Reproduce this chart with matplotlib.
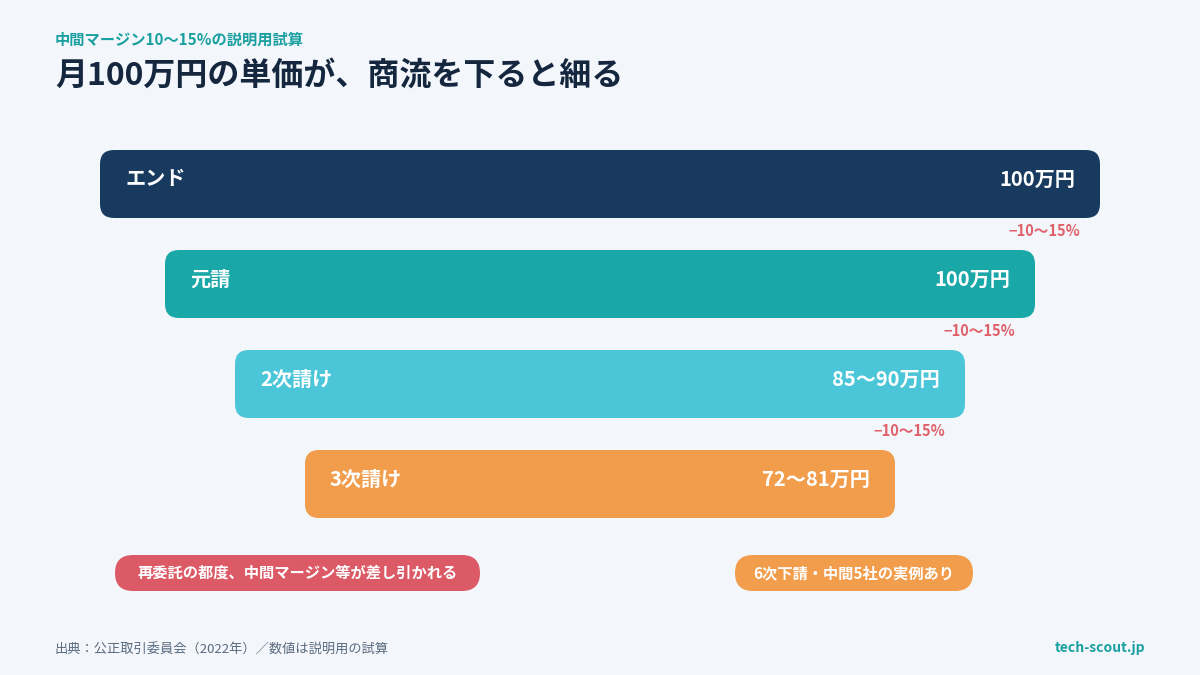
import matplotlib
matplotlib.use("Agg")
import matplotlib.pyplot as plt
from matplotlib.patches import FancyBboxPatch

plt.rcParams['font.family'] = ['Noto Sans CJK JP', 'DejaVu Sans']

stages = ["エンド", "元請", "2次請け", "3次請け"]
amounts = ["100万円", "100万円", "85〜90万円", "72〜81万円"]
widths = [1000, 870, 730, 590]
colors = ["#173A5E", "#1AA7A8", "#4BC6D8", "#F29D4B"]
drops = ["−10〜15%", "−10〜15%", "−10〜15%"]
notes = ["再委託の都度、中間マージン等が差し引かれる", "6次下請・中間5社の実例あり"]

BG = "#F3F6FA"
fig = plt.figure(figsize=(12, 6.75), dpi=100, facecolor=BG)
ax = fig.add_axes([0, 0, 1, 1])
ax.set_xlim(0, 1200)
ax.set_ylim(675, 0)
ax.axis("off")
ax.set_facecolor(BG)

fig.text(55 / 1200, 1 - 40 / 675, "中間マージン10〜15%の説明用試算", color="#1AA0A0",
         fontsize=11, fontweight="bold", va="center")
fig.text(55 / 1200, 1 - 76 / 675, "月100万円の単価が、商流を下ると細る", color="#14273F",
         fontsize=23, fontweight="bold", va="center")

bar_h = 68
for i, (name, amt, w, c) in enumerate(zip(stages, amounts, widths, colors)):
    yc = 184 + 100 * i
    x0 = 600 - w / 2
    ax.add_patch(FancyBboxPatch((x0, yc - bar_h / 2), w, bar_h,
                                boxstyle="round,pad=0,rounding_size=14",
                                fc=c, ec="none"))
    ax.text(x0 + 25, yc - 5, name, color="white", fontsize=14.5, fontweight="bold", va="center")
    ax.text(x0 + w - 25, yc - 5, amt, color="white", fontsize=14.5, fontweight="bold",
            va="center", ha="right")
    if i < len(drops):
        ax.text(x0 + w - 92, yc + 47, drops[i], color="#E0606A", fontsize=10.5,
                fontweight="bold", va="center", ha="right" if False else "left")

pills = [(115, 480, "#DC5A66"), (735, 973, "#F29D4B")]
for (x0, x1, c), txt in zip(pills, notes):
    ax.add_patch(FancyBboxPatch((x0, 555), x1 - x0, 36,
                                boxstyle="round,pad=0,rounding_size=18", fc=c, ec="none"))
    ax.text((x0 + x1) / 2, 573, txt, color="white", fontsize=11, fontweight="bold",
            ha="center", va="center")

ax.text(55, 650, "出典：公正取引委員会（2022年）／数値は説明用の試算", color="#5A6B80",
        fontsize=9.5, va="center")
ax.text(1145, 648, "tech-scout.jp", color="#1AA0A0", fontsize=10, fontweight="bold",
        va="center", ha="right")

fig.savefig("out.png", dpi=100, facecolor=BG)
